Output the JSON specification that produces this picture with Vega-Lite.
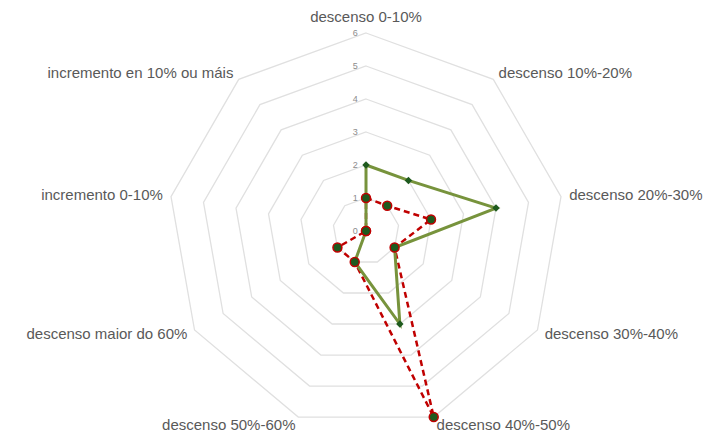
{
  "$schema": "https://vega.github.io/schema/vega-lite/v6.json",
  "width": 724,
  "height": 434,
  "autosize": "none",
  "padding": 0,
  "background": "white",
  "config": {"view": {"stroke": null}},
  "datasets": {
    "cats": [
      {"k": 0, "cat": "descenso 0-10%", "serie1": 2, "serie2": 1},
      {"k": 1, "cat": "descenso 10%-20%", "serie1": 2, "serie2": 1},
      {"k": 2, "cat": "descenso 20%-30%", "serie1": 4, "serie2": 2},
      {"k": 3, "cat": "descenso 30%-40%", "serie1": 1, "serie2": 1},
      {"k": 4, "cat": "descenso 40%-50%", "serie1": 3, "serie2": 6},
      {"k": 5, "cat": "descenso 50%-60%", "serie1": 1, "serie2": 1},
      {"k": 6, "cat": "descenso maior do 60%", "serie1": 0, "serie2": 1},
      {"k": 7, "cat": "incremento 0-10%", "serie1": 0, "serie2": 0},
      {"k": 8, "cat": "incremento en 10% ou máis", "serie1": 0, "serie2": 0}
    ],
    "rings": [
      {"lv": 1, "k": [0, 1, 2, 3, 4, 5, 6, 7, 8]},
      {"lv": 2, "k": [0, 1, 2, 3, 4, 5, 6, 7, 8]},
      {"lv": 3, "k": [0, 1, 2, 3, 4, 5, 6, 7, 8]},
      {"lv": 4, "k": [0, 1, 2, 3, 4, 5, 6, 7, 8]},
      {"lv": 5, "k": [0, 1, 2, 3, 4, 5, 6, 7, 8]},
      {"lv": 6, "k": [0, 1, 2, 3, 4, 5, 6, 7, 8]}
    ],
    "ticks": [{"t": 0}, {"t": 1}, {"t": 2}, {"t": 3}, {"t": 4}, {"t": 5}, {"t": 6}]
  },
  "encoding": {
    "x": {"field": "px", "type": "quantitative", "scale": {"domain": [-11.091, 10.848], "nice": false, "zero": false}, "axis": null},
    "y": {"field": "py", "type": "quantitative", "scale": {"domain": [-6.152, 7.0], "nice": false, "zero": false}, "axis": null}
  },
  "layer": [
    {
      "data": {"name": "rings"},
      "transform": [
        {"flatten": ["k"]},
        {"calculate": "datum.lv * sin(2 * PI * datum.k / 9)", "as": "px"},
        {"calculate": "datum.lv * cos(2 * PI * datum.k / 9)", "as": "py"}
      ],
      "mark": {"type": "line", "interpolate": "linear-closed", "color": "#E0E0E0", "strokeWidth": 1.3},
      "encoding": {
        "detail": {"field": "lv", "type": "nominal"},
        "order": {"field": "k", "type": "quantitative"}
      }
    },
    {
      "data": {"name": "ticks"},
      "transform": [
        {"calculate": "-0.25", "as": "px"},
        {"calculate": "datum.t", "as": "py"}
      ],
      "mark": {"type": "text", "align": "right", "baseline": "middle", "fontSize": 9, "font": "Liberation Sans", "color": "#8C8C8C"},
      "encoding": {"text": {"field": "t", "type": "quantitative"}}
    },
    {
      "data": {"name": "cats"},
      "transform": [
        {"calculate": "datum.serie2 * sin(2 * PI * datum.k / 9)", "as": "px"},
        {"calculate": "datum.serie2 * cos(2 * PI * datum.k / 9)", "as": "py"}
      ],
      "mark": {"type": "line", "interpolate": "linear-closed", "color": "#C00000", "strokeWidth": 2.5, "strokeDash": [6, 4]},
      "encoding": {"order": {"field": "k", "type": "quantitative"}}
    },
    {
      "data": {"name": "cats"},
      "transform": [
        {"calculate": "datum.serie1 * sin(2 * PI * datum.k / 9)", "as": "px"},
        {"calculate": "datum.serie1 * cos(2 * PI * datum.k / 9)", "as": "py"}
      ],
      "mark": {"type": "line", "interpolate": "linear-closed", "color": "#77933C", "strokeWidth": 3},
      "encoding": {"order": {"field": "k", "type": "quantitative"}}
    },
    {
      "data": {"name": "cats"},
      "transform": [
        {"calculate": "datum.serie2 * sin(2 * PI * datum.k / 9)", "as": "px"},
        {"calculate": "datum.serie2 * cos(2 * PI * datum.k / 9)", "as": "py"}
      ],
      "mark": {"type": "point", "shape": "circle", "filled": true, "fill": "#1E5A1E", "fillOpacity": 1, "stroke": "#C00000", "strokeWidth": 1.5, "size": 80, "opacity": 1}
    },
    {
      "data": {"name": "cats"},
      "transform": [
        {"calculate": "datum.serie1 * sin(2 * PI * datum.k / 9)", "as": "px"},
        {"calculate": "datum.serie1 * cos(2 * PI * datum.k / 9)", "as": "py"}
      ],
      "mark": {"type": "point", "shape": "diamond", "filled": true, "color": "#1E5A1E", "size": 55, "opacity": 1}
    },
    {
      "data": {"name": "cats"},
      "transform": [
        {"filter": "datum.k == 0"},
        {"calculate": "6.25 * sin(2 * PI * datum.k / 9)", "as": "px"},
        {"calculate": "6.25 * cos(2 * PI * datum.k / 9)", "as": "py"}
      ],
      "mark": {"type": "text", "align": "center", "baseline": "middle", "dy": -8, "fontSize": 15, "font": "Liberation Sans", "color": "#595959"},
      "encoding": {"text": {"field": "cat", "type": "nominal"}}
    },
    {
      "data": {"name": "cats"},
      "transform": [
        {"filter": "datum.k >= 1 && datum.k <= 4"},
        {"calculate": "6.25 * sin(2 * PI * datum.k / 9)", "as": "px"},
        {"calculate": "6.25 * cos(2 * PI * datum.k / 9)", "as": "py"}
      ],
      "mark": {"type": "text", "align": "left", "baseline": "middle", "fontSize": 15, "font": "Liberation Sans", "color": "#595959"},
      "encoding": {"text": {"field": "cat", "type": "nominal"}}
    },
    {
      "data": {"name": "cats"},
      "transform": [
        {"filter": "datum.k >= 5"},
        {"calculate": "6.25 * sin(2 * PI * datum.k / 9)", "as": "px"},
        {"calculate": "6.25 * cos(2 * PI * datum.k / 9)", "as": "py"}
      ],
      "mark": {"type": "text", "align": "right", "baseline": "middle", "fontSize": 15, "font": "Liberation Sans", "color": "#595959"},
      "encoding": {"text": {"field": "cat", "type": "nominal"}}
    }
  ]
}
